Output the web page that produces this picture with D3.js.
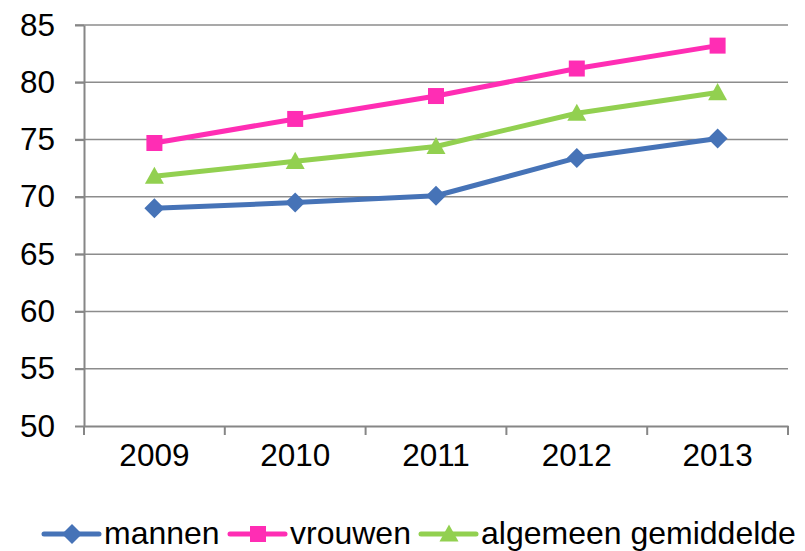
<!DOCTYPE html>
<html><head><meta charset="utf-8">
<script src="https://cdn.jsdelivr.net/npm/d3@7"></script>
<style>body{margin:0;background:#fff}svg{display:block}text{font-family:"Liberation Sans",Arial,sans-serif;fill:#000}</style>
</head><body>
<svg id="c" width="805" height="551"></svg>
<script>
const years = ["2009","2010","2011","2012","2013"];
const mannen = [69.0, 69.5, 70.1, 73.4, 75.1];
const vrouwen = [74.7, 76.8, 78.8, 81.2, 83.2];
const algemeen = [71.8, 73.1, 74.4, 77.3, 79.1];
const yTicks = [50,55,60,65,70,75,80,85];
const seriesNames = ["mannen","vrouwen","algemeen gemiddelde"];

const series = [
  {name: seriesNames[0], values: mannen, color: "#4673B7", marker: "diamond"},
  {name: seriesNames[1], values: vrouwen, color: "#FF2DB4", marker: "square"},
  {name: seriesNames[2], values: algemeen, color: "#92D050", marker: "triangle"}
];

const svg = d3.select("#c");
const L = 84, R = 788, T = 25, B = 426;
const x = d3.scaleBand().domain(years).range([L, R]);
const y = d3.scaleLinear().domain([50, 85]).range([B, T]);
const fs = 31.5;
const lfs = 32;

// gridlines
svg.append("g").selectAll("line").data(yTicks.filter(d => d !== 50)).join("line")
  .attr("x1", L - 9).attr("x2", R).attr("y1", d => y(d)).attr("y2", d => y(d))
  .attr("stroke", "#8c8c8c").attr("stroke-width", 1.5);

// y axis
const ya = svg.append("g").attr("transform", `translate(${L},0)`)
  .call(d3.axisLeft(y).tickValues(yTicks).tickSize(9).tickPadding(20).tickSizeOuter(0));
ya.select(".domain").attr("stroke", "#868686").attr("stroke-width", 2);
ya.selectAll(".tick line").attr("stroke", "#868686").attr("stroke-width", 2);
ya.selectAll("text").attr("font-size", fs).attr("font-family", "Liberation Sans, Arial, sans-serif").attr("fill", "#000");

// x axis
const xa = svg.append("g").attr("transform", `translate(0,${B})`)
  .call(d3.axisBottom(x).tickSize(0).tickPadding(18));
xa.select(".domain").attr("stroke", "#868686").attr("stroke-width", 2);
xa.selectAll("text").attr("font-size", fs).attr("font-family", "Liberation Sans, Arial, sans-serif").attr("fill", "#000");
// band boundary ticks
const bounds = years.map(d => x(d)).concat([x(years[years.length-1]) + x.bandwidth()]);
svg.append("g").selectAll("line").data(bounds).join("line")
  .attr("x1", d => d).attr("x2", d => d).attr("y1", B).attr("y2", B + 9)
  .attr("stroke", "#868686").attr("stroke-width", 2);

const cx = d => x(d) + x.bandwidth() / 2;

function markerPath(type, s) {
  if (type === "diamond") return `M0,${-s}L${s},0L0,${s}L${-s},0Z`;
  if (type === "square") { const h = s * 0.8; return `M${-h},${-h}H${h}V${h}H${-h}Z`; }
  const h = s * 0.95; return `M0,${-h}L${h},${h*0.8}L${-h},${h*0.8}Z`;
}

const line = d3.line().x((d, i) => cx(years[i])).y(d => y(d));
series.forEach(s => {
  svg.append("path").attr("d", line(s.values)).attr("fill", "none")
    .attr("stroke", s.color).attr("stroke-width", 5).attr("stroke-linejoin", "round");
  svg.append("g").selectAll("path").data(s.values).join("path")
    .attr("transform", (d, i) => `translate(${cx(years[i])},${y(d)})`)
    .attr("d", markerPath(s.marker, 10)).attr("fill", s.color);
});

// legend
const legX = [44, 230, 421];
const legY = 534;
series.forEach((s, i) => {
  const g = svg.append("g").attr("transform", `translate(${legX[i]},${legY})`);
  g.append("line").attr("x1", 0).attr("x2", 55).attr("y1", 0).attr("y2", 0)
    .attr("stroke", s.color).attr("stroke-width", 5).attr("stroke-linecap", "round");
  g.append("path").attr("transform", "translate(28,0)").attr("d", markerPath(s.marker, 10)).attr("fill", s.color);
  g.append("text").attr("x", 60).attr("y", 10).attr("font-size", lfs).text(s.name);
});
</script>
</body></html>
